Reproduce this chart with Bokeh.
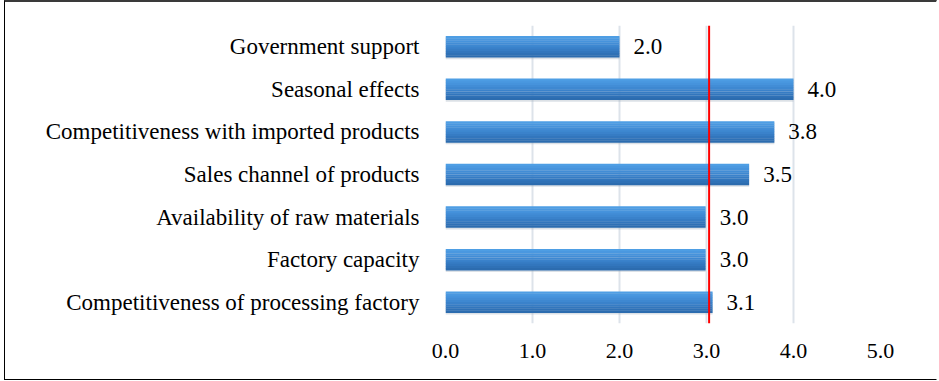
from bokeh.plotting import figure
from bokeh.models import ColumnDataSource, FactorRange, Range1d, LabelSet, Span, FixedTicker
from bokeh.transform import dodge
from bokeh.embed import file_html
from bokeh.resources import INLINE

categories = [
    "Government support",
    "Seasonal effects",
    "Competitiveness with imported products",
    "Sales channel of products",
    "Availability of raw materials",
    "Factory capacity",
    "Competitiveness of processing factory",
]
scores = [2.0, 4.0, 3.78, 3.49, 2.99, 2.99, 3.07]
score_labels = ["2.0", "4.0", "3.8", "3.5", "3.0", "3.0", "3.1"]
threshold = 3.03
x_ticks = [0, 1, 2, 3, 4, 5]
x_tick_labels = {0: "0.0", 1: "1.0", 2: "2.0", 3: "3.0", 4: "4.0", 5: "5.0"}

src = ColumnDataSource(dict(cat=categories, val=scores, lab=score_labels))

FONT = "Liberation Serif"

p = figure(
    width=933, height=380,
    y_range=FactorRange(*categories[::-1], range_padding=0),
    x_range=Range1d(0, 5),
    output_backend="svg", toolbar_location=None,
    min_border_left=440, min_border_right=58, min_border_top=23, min_border_bottom=59,
)
p.styles = {
    "border-top": "2px solid #3a3a3a",
    "border-left": "1px solid #000000",
    "border-bottom": "1px solid #000000",
    "border-right": "1px solid #ffffff",
    "margin-left": "4px",
}
p.outline_line_color = None
p.background_fill_color = "white"
p.border_fill_color = "white"

# soft shadow under the bars
p.hbar(y=dodge("cat", -0.03, range=p.y_range), right="val", left=0, height=0.52,
       source=src, fill_color="#9aa8b8", fill_alpha=0.35, line_color=None)

# bars with a vertical light-to-dark shading (stacked thin strips)
strip_colors = ["#4e9ee4", "#4a98e0", "#4693dc", "#428dd6", "#3e88d1",
                "#3a82cb", "#367cc4", "#3276bd", "#2f71b6", "#2c6caf"]
n = len(strip_colors)
h = 0.5 / n
for i, c in enumerate(strip_colors):
    off = 0.25 - h * (i + 0.5)
    p.hbar(y=dodge("cat", off, range=p.y_range), right="val", left=0, height=h * 1.1,
           source=src, fill_color=c, line_color=None)

labels = LabelSet(x="val", y="cat", text="lab", source=src, x_offset=14,
                  text_baseline="middle", text_align="left",
                  text_font=FONT, text_font_size="23px", text_color="#000000")
p.add_layout(labels)

p.add_layout(Span(location=threshold, dimension="height", line_color="#ff0000", line_width=2))

p.xgrid.ticker = FixedTicker(ticks=x_ticks)
p.xgrid.grid_line_color = "#dde3ea"
p.xgrid.grid_line_width = 2
p.ygrid.grid_line_color = None

p.xaxis.ticker = FixedTicker(ticks=x_ticks)
p.xaxis.major_label_overrides = x_tick_labels
p.xaxis.axis_line_color = None
p.xaxis.major_tick_line_color = None
p.xaxis.minor_tick_line_color = None
p.xaxis.major_label_text_font = FONT
p.xaxis.major_label_text_font_size = "22px"
p.xaxis.major_label_text_color = "#000000"
p.xaxis.major_label_standoff = 14

p.yaxis.axis_line_color = None
p.yaxis.major_tick_line_color = None
p.yaxis.major_label_text_font = FONT
p.yaxis.major_label_text_font_size = "23px"
p.yaxis.major_label_text_color = "#000000"
p.yaxis.major_label_standoff = 20

open("out.html", "w").write(file_html(p, INLINE))
